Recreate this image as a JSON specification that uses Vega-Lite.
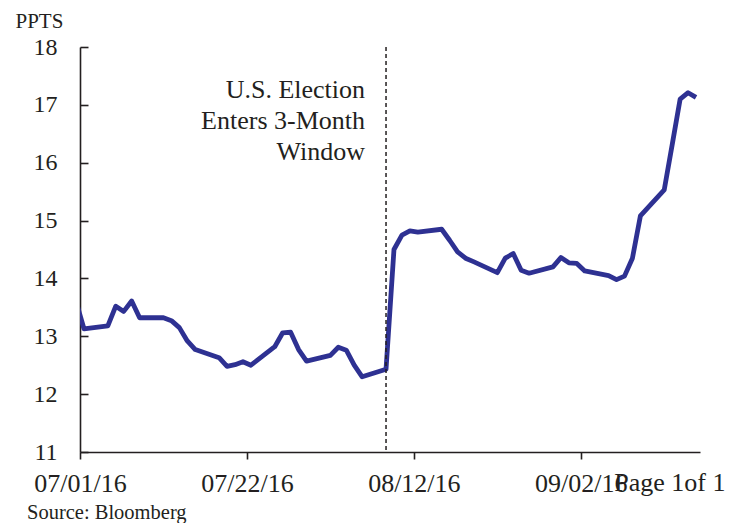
{
  "$schema": "https://vega.github.io/schema/vega-lite/v6.json",
  "width": 620,
  "height": 405,
  "autosize": {"type": "none"},
  "padding": {"left": 80, "top": 47, "right": 37, "bottom": 71},
  "background": "white",
  "config": {
    "view": {"stroke": null},
    "font": "Liberation Serif",
    "text": {"font": "Liberation Serif"},
    "axis": {"grid": false, "domainColor": "#231f20", "tickColor": "#231f20", "labelColor": "#231f20", "titleColor": "#231f20", "domainWidth": 1.6, "tickWidth": 1.6, "labelFont": "Liberation Serif", "titleFont": "Liberation Serif", "titleFontWeight": "normal"}
  },
  "title": {"text": "Source: Bloomberg", "orient": "bottom", "anchor": "start", "frame": "group", "fontSize": 20.5, "fontWeight": "normal", "font": "Liberation Serif", "color": "#231f20", "baseline": "alphabetic", "offset": 23, "dx": -53},
  "datasets": {
    "vix": [
      {"date": "2016-06-30T12:00", "value": 13.6},
      {"date": "2016-07-01T12:00", "value": 13.13},
      {"date": "2016-07-04T12:00", "value": 13.18},
      {"date": "2016-07-05T12:00", "value": 13.52},
      {"date": "2016-07-06T12:00", "value": 13.43},
      {"date": "2016-07-07T12:00", "value": 13.61},
      {"date": "2016-07-08T12:00", "value": 13.32},
      {"date": "2016-07-11T12:00", "value": 13.32},
      {"date": "2016-07-12T12:00", "value": 13.27},
      {"date": "2016-07-13T12:00", "value": 13.15},
      {"date": "2016-07-14T12:00", "value": 12.92},
      {"date": "2016-07-15T12:00", "value": 12.77},
      {"date": "2016-07-18T12:00", "value": 12.63},
      {"date": "2016-07-19T12:00", "value": 12.48},
      {"date": "2016-07-20T12:00", "value": 12.51},
      {"date": "2016-07-21T12:00", "value": 12.56},
      {"date": "2016-07-22T12:00", "value": 12.5},
      {"date": "2016-07-25T12:00", "value": 12.82},
      {"date": "2016-07-26T12:00", "value": 13.06},
      {"date": "2016-07-27T12:00", "value": 13.07},
      {"date": "2016-07-28T12:00", "value": 12.77},
      {"date": "2016-07-29T12:00", "value": 12.57},
      {"date": "2016-08-01T12:00", "value": 12.67},
      {"date": "2016-08-02T12:00", "value": 12.81},
      {"date": "2016-08-03T12:00", "value": 12.76},
      {"date": "2016-08-04T12:00", "value": 12.5},
      {"date": "2016-08-05T12:00", "value": 12.3},
      {"date": "2016-08-08T12:00", "value": 12.43},
      {"date": "2016-08-09T12:00", "value": 14.5},
      {"date": "2016-08-10T12:00", "value": 14.75},
      {"date": "2016-08-11T12:00", "value": 14.82},
      {"date": "2016-08-12T12:00", "value": 14.8},
      {"date": "2016-08-15T12:00", "value": 14.85},
      {"date": "2016-08-16T12:00", "value": 14.66},
      {"date": "2016-08-17T12:00", "value": 14.46},
      {"date": "2016-08-18T12:00", "value": 14.35},
      {"date": "2016-08-19T12:00", "value": 14.29},
      {"date": "2016-08-22T12:00", "value": 14.1},
      {"date": "2016-08-23T12:00", "value": 14.35},
      {"date": "2016-08-24T12:00", "value": 14.43},
      {"date": "2016-08-25T12:00", "value": 14.14},
      {"date": "2016-08-26T12:00", "value": 14.09},
      {"date": "2016-08-29T12:00", "value": 14.2},
      {"date": "2016-08-30T12:00", "value": 14.36},
      {"date": "2016-08-31T12:00", "value": 14.27},
      {"date": "2016-09-01T12:00", "value": 14.26},
      {"date": "2016-09-02T12:00", "value": 14.13},
      {"date": "2016-09-05T12:00", "value": 14.05},
      {"date": "2016-09-06T12:00", "value": 13.98},
      {"date": "2016-09-07T12:00", "value": 14.04},
      {"date": "2016-09-08T12:00", "value": 14.35},
      {"date": "2016-09-09T12:00", "value": 15.08},
      {"date": "2016-09-12T12:00", "value": 15.53},
      {"date": "2016-09-13T12:00", "value": 16.31},
      {"date": "2016-09-14T12:00", "value": 17.1},
      {"date": "2016-09-15T12:00", "value": 17.21},
      {"date": "2016-09-16T12:00", "value": 17.13}
    ],
    "event": [{"date": "2016-08-08T12:00"}],
    "note": [
      {"date": "2016-08-08T12:00", "value": 17.11, "label": "U.S. Election"},
      {"date": "2016-08-08T12:00", "value": 16.58, "label": "Enters 3-Month"},
      {"date": "2016-08-08T12:00", "value": 16.04, "label": "Window"}
    ]
  },
  "layer": [
    {
      "data": {"name": "vix"},
      "mark": {"type": "line", "color": "#2e3192", "strokeWidth": 4.8, "clip": true, "strokeJoin": "round"},
      "encoding": {
        "x": {
          "field": "date", "type": "temporal",
          "scale": {"domain": [{"year": 2016, "month": 7, "date": 1}, {"year": 2016, "month": 9, "date": 17}]},
          "axis": {
            "values": [{"year": 2016, "month": 7, "date": 1}, {"year": 2016, "month": 7, "date": 22}, {"year": 2016, "month": 8, "date": 12}, {"year": 2016, "month": 9, "date": 2}],
            "format": "%m/%d/%y", "labelFont": "Liberation Serif", "labelFontSize": 26, "tickSize": 7, "labelPadding": 32, "labelBaseline": "alphabetic", "labelFlush": false, "labelOverlap": false,
            "title": "Page 1of 1", "titleFont": "Liberation Serif", "titleFontSize": 26, "titleAlign": "right", "titleAnchor": null, "titleX": 645, "titleY": 38, "titleBaseline": "alphabetic"
          }
        },
        "y": {
          "field": "value", "type": "quantitative",
          "scale": {"domain": [11, 18], "nice": false, "zero": false},
          "axis": {
            "values": [11, 12, 13, 14, 15, 16, 17, 18], "format": "d", "labelFont": "Liberation Serif", "labelFontSize": 24, "tickSize": -8, "labelPadding": 31, "labelBaseline": "middle", "labelFlush": false,
            "title": "PPTS", "titleFont": "Liberation Serif", "titleFontSize": 21, "titleAngle": 0, "titleAlign": "left", "titleAnchor": null, "titleX": -65, "titleY": -20, "titleBaseline": "alphabetic"
          }
        }
      }
    },
    {
      "data": {"name": "event"},
      "mark": {"type": "rule", "color": "#231f20", "strokeWidth": 1.5, "strokeDash": [4, 3]},
      "encoding": {"x": {"field": "date", "type": "temporal"}}
    },
    {
      "data": {"name": "note"},
      "mark": {"type": "text", "align": "right", "baseline": "alphabetic", "fontSize": 26, "dx": -21, "color": "#231f20", "font": "Liberation Serif"},
      "encoding": {
        "x": {"field": "date", "type": "temporal"},
        "y": {"field": "value", "type": "quantitative"},
        "text": {"field": "label"}
      }
    }
  ]
}
